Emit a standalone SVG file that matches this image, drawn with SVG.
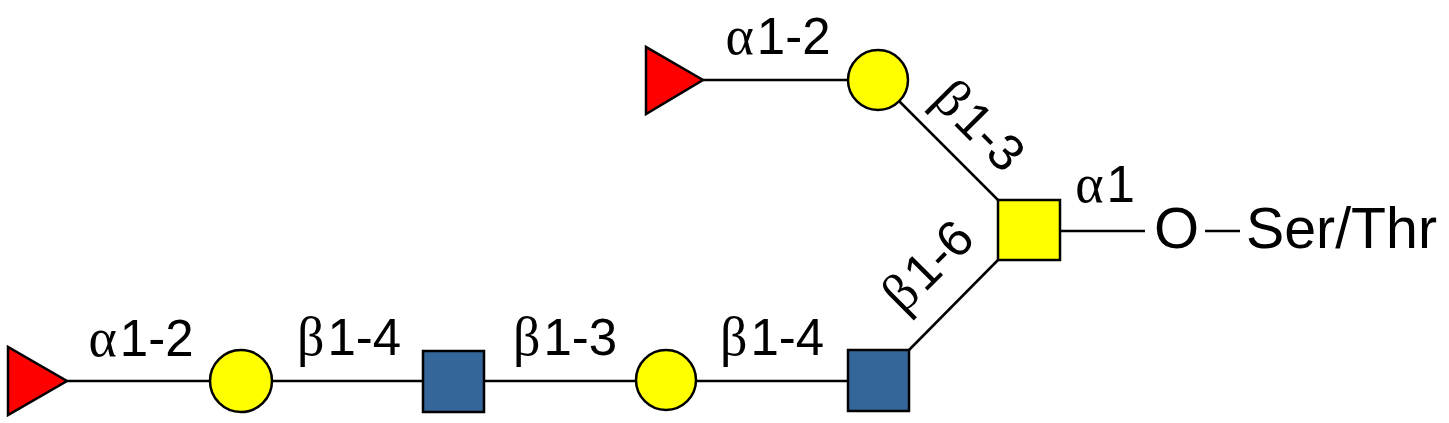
<svg xmlns="http://www.w3.org/2000/svg" width="1449" height="423" viewBox="0 0 1449 423">
<style>
.edge{stroke:#000;stroke-width:2.5;fill:none}
.fuc{fill:#FF0000;stroke:#000;stroke-width:2.5}
.gal{fill:#FFFF00;stroke:#000;stroke-width:2.5}
.glcnac{fill:#356699;stroke:#000;stroke-width:2.5}
.lbl{font-family:"Liberation Sans",Arial,sans-serif;font-size:51px;fill:#000;text-anchor:middle}
.gk{font-family:"Liberation Serif","Times New Roman",serif;font-size:54px}
.big{font-family:"Liberation Sans",Arial,sans-serif;font-size:58px;fill:#000}
</style>
<rect width="1449" height="423" fill="#fff"/>
<g id="connectors">
<line class="edge" x1="703" y1="80" x2="878" y2="80"/>
<line class="edge" x1="878" y1="80" x2="998" y2="200"/>
<line class="edge" x1="909" y1="350" x2="998" y2="260"/>
<line class="edge" x1="1060" y1="231" x2="1145" y2="231"/>
<line class="edge" x1="1205" y1="231" x2="1240" y2="231"/>
<line class="edge" x1="67" y1="381" x2="423" y2="381"/>
<line class="edge" x1="484" y1="381" x2="848" y2="381"/>
</g>
<g id="labels">
<text class="lbl" x="778" y="54"><tspan class="gk">α</tspan><tspan dx="3">1-2</tspan></text>
<text class="lbl" transform="translate(979,126) rotate(45)" x="0" y="17"><tspan class="gk">β</tspan><tspan dx="3">1-3</tspan></text>
<text class="lbl" transform="translate(928,266) rotate(-45)" x="0" y="17"><tspan class="gk">β</tspan><tspan dx="3">1-6</tspan></text>
<text class="lbl" x="1105" y="202"><tspan class="gk">α</tspan><tspan dx="3">1</tspan></text>
<text class="lbl" x="141" y="356"><tspan class="gk">α</tspan><tspan dx="3">1-2</tspan></text>
<text class="lbl" x="349" y="355"><tspan class="gk">β</tspan><tspan dx="3">1-4</tspan></text>
<text class="lbl" x="565" y="355"><tspan class="gk">β</tspan><tspan dx="3">1-3</tspan></text>
<text class="lbl" x="772" y="355"><tspan class="gk">β</tspan><tspan dx="3">1-4</tspan></text>
</g>
<g id="fuc-top"><polygon class="fuc" points="646,47 646,114 703,80"/></g>
<g id="gal-top"><circle class="gal" cx="878" cy="80" r="30"/></g>
<g id="galnac"><rect class="gal" x="998" y="200" width="62" height="60"/></g>
<g id="fuc-bottom"><polygon class="fuc" points="8,347 8,415 67,381"/></g>
<g id="gal-1"><circle class="gal" cx="241" cy="381" r="31"/></g>
<g id="glcnac-1"><rect class="glcnac" x="423" y="351" width="61" height="61"/></g>
<g id="gal-2"><circle class="gal" cx="666" cy="380" r="30"/></g>
<g id="glcnac-2"><rect class="glcnac" x="848" y="350" width="61" height="61"/></g>
<g id="aglycone">
<text class="big" x="1154" y="248">O</text>
<text class="big" x="1246" y="248" textLength="191" lengthAdjust="spacingAndGlyphs">Ser/Thr</text>
</g>
</svg>
